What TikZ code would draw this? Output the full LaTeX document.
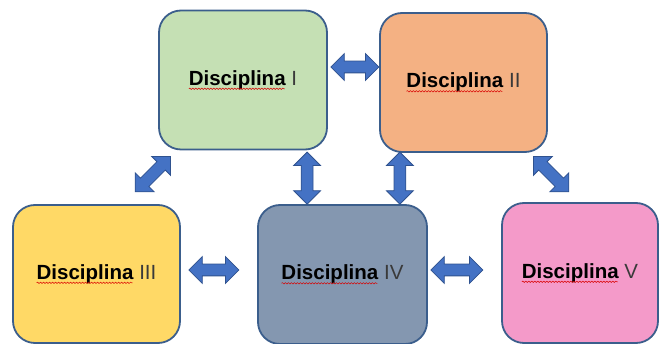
\documentclass[tikz,border=0pt]{standalone}
\usepackage{fontspec}
\setmainfont{Liberation Sans}
\usetikzlibrary{shapes.arrows,decorations.pathmorphing}

\definecolor{boxline}{HTML}{3B5E8C}
\definecolor{arrowfill}{HTML}{4472C4}
\definecolor{arrowline}{HTML}{2F528F}
\definecolor{greenbox}{HTML}{C5E0B4}
\definecolor{orangebox}{HTML}{F4B183}
\definecolor{yellowbox}{HTML}{FFD966}
\definecolor{greybox}{HTML}{8497B0}
\definecolor{pinkbox}{HTML}{F49AC9}
\definecolor{numeral}{HTML}{3A3A3A}

\newcommand{\disc}[1]{\textbf{Disciplina} \textcolor{numeral}{#1}}

\tikzset{
  discbox/.style={draw=boxline, line width=1.8pt, rounded corners=22pt,
    minimum width=168pt, minimum height=139pt, inner sep=0pt,
    font=\fontsize{20.5}{24}\selectfont},
  dblarrow/.style={double arrow, draw=arrowline, fill=arrowfill, line width=0.8pt,
    minimum height=50pt, minimum width=26pt, inner xsep=0pt, inner ysep=5.5pt,
    double arrow head extend=7.5pt},
  spellwave/.style={red!85!black, line width=0.5pt,
    decorate, decoration={snake, segment length=3pt, amplitude=0.7pt}}
}

\begin{document}
\begin{tikzpicture}[x=1pt,y=-1pt]
\useasboundingbox (0,0) rectangle (659,344);
\node[discbox, fill=greenbox] (d1) at (243,80) {\disc{I}};
\node[discbox, fill=orangebox, minimum width=167pt] (d2) at (463.5,82.5) {\disc{II}};
\node[discbox, fill=yellowbox, minimum width=167pt, minimum height=138pt] (d3) at (96.5,274) {\disc{III}};
\node[discbox, fill=greybox, minimum width=169pt] (d4) at (342.5,274.5) {\disc{IV}};
\node[discbox, fill=pinkbox, minimum width=156pt, minimum height=140pt] (d5) at (580,273) {\disc{V}};

\foreach \n in {1,...,5}
  \draw[spellwave] ([shift={(0,3.5)}]d\n.text) -- ++(96,0);

\node[dblarrow, minimum height=48pt] (a12) at ([shift={(27,-13)}]d1.east) {};
\node[dblarrow] (a34) at ([shift={(33,-4)}]d3.east) {};
\node[dblarrow, minimum height=52pt] (a45) at ([shift={(29,-4.5)}]d4.east) {};
\node[dblarrow, rotate=90, minimum height=52pt] (a14) at ([shift={(50,-26)}]d4.north west) {};
\node[dblarrow, rotate=90, minimum height=52pt] (a24) at ([shift={(-28,-26)}]d4.north east) {};
\node[dblarrow, rotate=45] (a13) at ([shift={(-28,-30)}]d3.north east) {};
\node[dblarrow, rotate=-45] (a25) at ([shift={(50,-28)}]d5.north west) {};
\end{tikzpicture}
\end{document}
